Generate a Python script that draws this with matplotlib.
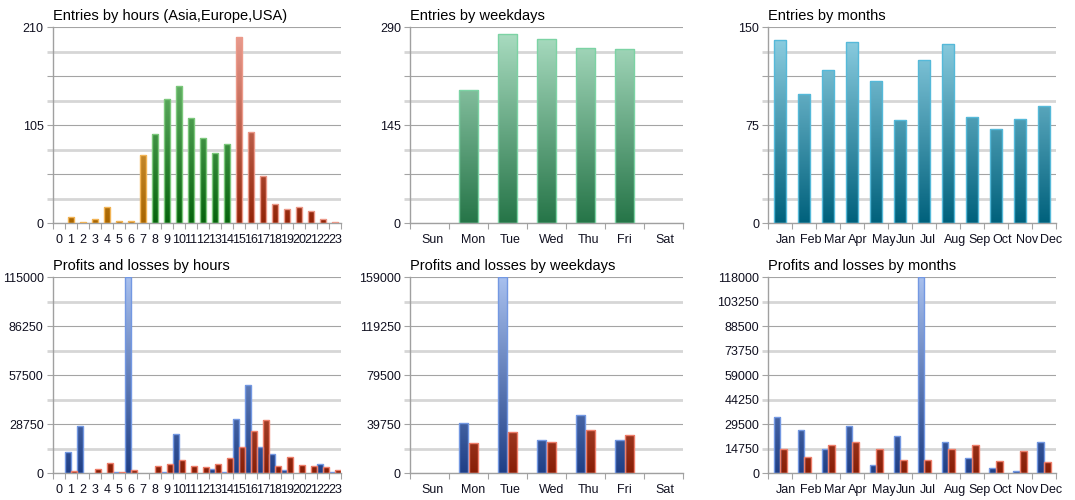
import numpy as np
import matplotlib
matplotlib.use('Agg')
import matplotlib.pyplot as plt
from matplotlib.colors import LinearSegmentedColormap
from matplotlib.transforms import ScaledTranslation

plt.rcParams['font.family'] = ['Liberation Sans', 'DejaVu Sans']

# ---------------- data ----------------
hours = [str(h) for h in range(24)]
weekdays = ['Sun', 'Mon', 'Tue', 'Wed', 'Thu', 'Fri', 'Sat']
months = ['Jan', 'Feb', 'Mar', 'Apr', 'May', 'Jun', 'Jul', 'Aug', 'Sep', 'Oct', 'Nov', 'Dec']

entries_hours = [0, 7, 1, 5, 17, 2, 2, 73, 96, 133, 147, 113, 91, 75, 85,
                 200, 98, 51, 21, 15, 17, 13, 5, 1]
hour_sessions = ['asia'] * 8 + ['europe'] * 7 + ['usa'] * 9
entries_weekdays = [0, 197, 280, 273, 260, 258, 0]
entries_months = [140, 99, 117, 139, 109, 79, 125, 137, 81, 72, 80, 90]

profit_hours = [0, 12500, 27800, 0, 0, 600, 115000, 0, 0, 800, 22900, 0,
                0, 2350, 800, 32000, 52000, 15650, 11150, 1950, 0, 0, 5280, 800]
loss_hours = [0, 1370, 0, 2500, 6260, 1000, 1760, 0, 4500, 5280, 7630, 4500,
              3900, 5480, 8800, 15260, 24840, 31100, 4100, 9580, 4700, 4300, 3500, 1760]
profit_weekdays = [0, 40500, 159000, 27000, 47000, 26800, 0]
loss_weekdays = [0, 24600, 33800, 25150, 35400, 31100, 0]
profit_months = [33900, 26300, 14850, 28300, 4800, 22700, 118000, 18700, 9000, 3000, 1400, 19100]
loss_months = [14850, 10000, 17050, 18900, 14650, 8000, 8000, 14450, 16850, 7200, 13250, 6600]

ymax_entries_hours = 210
ymax_entries_weekdays = 290
ymax_entries_months = 150
ymax_pl_hours = 115000
ymax_pl_weekdays = 159000
ymax_pl_months = 118000

# ---------------- styles ----------------
def cm(name, c0, c1):
    return LinearSegmentedColormap.from_list(name, [c0, c1])

styles = {
    'asia': (cm('asia', '#a86500', '#f7c778'), '#f2b456'),
    'europe': (cm('eu', '#06630d', '#86cc86'), '#7cc87c'),
    'usa': (cm('usa', '#922408', '#eca094'), '#ec9a8a'),
    'wd': (cm('wd', '#267548', '#addfc4'), '#7cd3a4'),
    'mo': (cm('mo', '#00617c', '#93d3e6'), '#55b9d9'),
    'profit': (cm('pr', '#1f3f86', '#a8c0ee'), '#7398e2'),
    'loss': (cm('lo', '#881e06', '#e89684'), '#ee7e6a'),
}

TEXT = '#101020'
fig = plt.figure(figsize=(10.75, 5), dpi=100)
fig.patch.set_facecolor('white')


def grad_bars(ax, x, heights, width, style, ymax):
    cmap, edge = styles[style]
    bars = ax.bar(x, heights, width, facecolor='none', edgecolor=edge,
                  linewidth=1.0, zorder=3)
    for b in bars:
        h = b.get_height()
        if h <= 0:
            b.set_visible(False)
            continue
        x0, w = b.get_x(), b.get_width()
        grad = np.linspace(h / ymax, 0, 128).reshape(-1, 1)
        im = ax.imshow(grad, cmap=cmap, vmin=0, vmax=1,
                       extent=[x0, x0 + w, 0, h], aspect='auto',
                       origin='upper', zorder=2, interpolation='bilinear')
        im.set_clip_path(b)
    return bars


def setup(ax, title, labels, ymax, label_idx, xshift_px, ha):
    n = len(labels)
    ax.set_xlim(-0.5, n - 0.5)
    ax.set_ylim(0, ymax)
    for s in ['top', 'right']:
        ax.spines[s].set_visible(False)
    for s in ['left', 'bottom']:
        ax.spines[s].set_color('#a0a0a0')
        ax.spines[s].set_linewidth(1.0)
    ax.set_axisbelow(True)
    levels = np.linspace(0, ymax, 9)
    ax.set_yticks(levels[::2])
    ax.set_yticks(levels[1::2], minor=True)
    maj = [str(int(round(v))) if (2 * i) in label_idx else '' for i, v in enumerate(levels[::2])]
    mnr = [str(int(round(v))) if (2 * i + 1) in label_idx else '' for i, v in enumerate(levels[1::2])]
    ax.set_yticklabels(maj)
    ax.set_yticklabels(mnr, minor=True)
    ax.yaxis.grid(True, which='major', color='#a4a4a4', linewidth=0.8)
    ax.yaxis.grid(True, which='minor', color='#d6d6d6', linewidth=2.0)
    ax.tick_params(axis='y', which='major', color='#a4a4a4', width=0.8, length=4.5,
                   labelsize=9, labelcolor=TEXT, pad=2)
    ax.tick_params(axis='y', which='minor', color='#d6d6d6', width=2.0, length=4.5,
                   labelsize=9, labelcolor=TEXT, pad=2)
    ax.set_xticks(np.arange(n + 1) - 0.5)
    ax.set_xticklabels([''] * (n + 1))
    ax.set_xticks(np.arange(n), minor=True)
    ax.set_xticklabels(labels, minor=True)
    ax.tick_params(axis='x', which='major', color='#a4a4a4', width=0.8, length=4.5)
    ax.tick_params(axis='x', which='minor', length=0, labelsize=9, labelcolor=TEXT, pad=8)
    for lbl in ax.get_xticklabels(minor=True):
        lbl.set_ha(ha)
        lbl.set_transform(lbl.get_transform() + ScaledTranslation(xshift_px / 100, 0, fig.dpi_scale_trans))
    ax.set_title(title, loc='left', fontsize=10.5, color='#000000', pad=5)


H = 0.392
top_b = 1 - 223.3 / 500
bot_b = 1 - 473.3 / 500
lefts = [(52.7 / 1075, 288.3 / 1075), (410 / 1075, 273.3 / 1075), (768.3 / 1075, 287.7 / 1075)]

ax1 = fig.add_axes([lefts[0][0], top_b, lefts[0][1], H])
ax2 = fig.add_axes([lefts[1][0], top_b, lefts[1][1], H])
ax3 = fig.add_axes([lefts[2][0], top_b, lefts[2][1], H])
ax4 = fig.add_axes([lefts[0][0], bot_b, lefts[0][1], H])
ax5 = fig.add_axes([lefts[1][0], bot_b, lefts[1][1], H])
ax6 = fig.add_axes([lefts[2][0], bot_b, lefts[2][1], H])

# Entries by hours
xh = np.arange(len(hours))
for sess in ['asia', 'europe', 'usa']:
    idx = [i for i, s in enumerate(hour_sessions) if s == sess]
    grad_bars(ax1, xh[idx], [entries_hours[i] for i in idx], 0.5, sess, ymax_entries_hours)
setup(ax1, 'Entries by hours (Asia,Europe,USA)', hours, ymax_entries_hours, {0, 4, 8}, 0, 'center')

# Entries by weekdays
xw = np.arange(len(weekdays))
grad_bars(ax2, xw, entries_weekdays, 0.5, 'wd', ymax_entries_weekdays)
setup(ax2, 'Entries by weekdays', weekdays, ymax_entries_weekdays, {0, 4, 8}, -8, 'left')

# Entries by months
xm = np.arange(len(months))
grad_bars(ax3, xm, entries_months, 0.51, 'mo', ymax_entries_months)
setup(ax3, 'Entries by months', months, ymax_entries_months, {0, 4, 8}, -4, 'left')

# P&L by hours
grad_bars(ax4, xh - 0.25, profit_hours, 0.48, 'profit', ymax_pl_hours)
grad_bars(ax4, xh + 0.25, loss_hours, 0.48, 'loss', ymax_pl_hours)
setup(ax4, 'Profits and losses by hours', hours, ymax_pl_hours, {0, 2, 4, 6, 8}, 0, 'center')

# P&L by weekdays
grad_bars(ax5, xw - 0.125, profit_weekdays, 0.24, 'profit', ymax_pl_weekdays)
grad_bars(ax5, xw + 0.125, loss_weekdays, 0.24, 'loss', ymax_pl_weekdays)
setup(ax5, 'Profits and losses by weekdays', weekdays, ymax_pl_weekdays, {0, 2, 4, 6, 8}, -8, 'left')

# P&L by months
grad_bars(ax6, xm - 0.14, profit_months, 0.27, 'profit', ymax_pl_months)
grad_bars(ax6, xm + 0.14, loss_months, 0.27, 'loss', ymax_pl_months)
setup(ax6, 'Profits and losses by months', months, ymax_pl_months, set(range(9)), -4, 'left')

fig.savefig('out.png', dpi=100, facecolor='white')
